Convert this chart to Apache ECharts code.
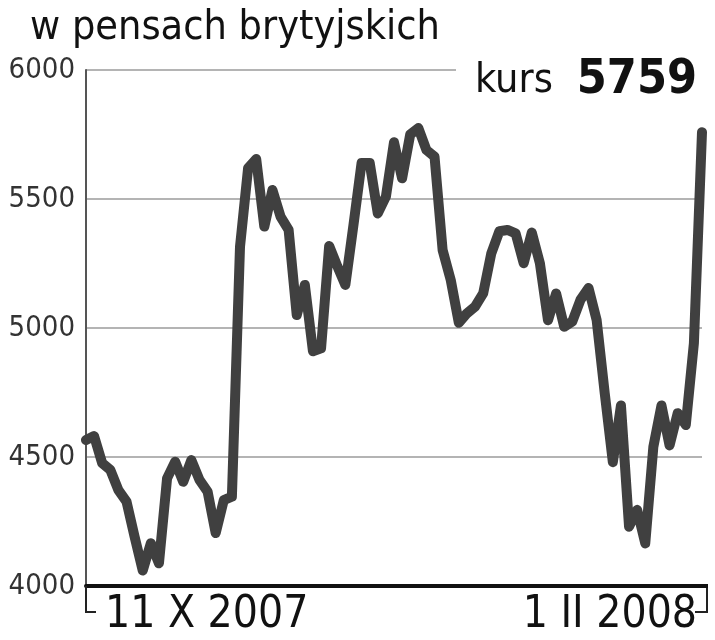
<!DOCTYPE html>
<html>
<head>
<meta charset="utf-8">
<script src="https://cdn.jsdelivr.net/npm/echarts@6/dist/echarts.min.js"></script>
<style>
  html, body { margin: 0; padding: 0; background: #fff; }
  #chart { width: 715px; height: 640px; }
</style>
</head>
<body>
<div id="chart"></div>
<script>
// kurs w pensach brytyjskich, notowania dzienne 11 X 2007 - 1 II 2008
var values = [
  4566, 4581, 4476, 4450, 4372, 4327, 4190, 4060, 4166, 4088,
  4417, 4482, 4404, 4488, 4411, 4366, 4205, 4333, 4346, 5315,
  5620, 5655, 5393, 5535, 5432, 5380, 5050, 5167, 4910, 4921,
  5318, 5240, 5167, 5400, 5640, 5640, 5444, 5509, 5720, 5580,
  5750, 5775, 5690, 5664, 5302, 5186, 5020, 5057, 5083, 5134,
  5289, 5375, 5380, 5367, 5251, 5370, 5251, 5030, 5134, 5005,
  5025, 5109, 5155, 5031, 4747, 4480, 4700, 4230, 4295, 4165,
  4540, 4700, 4545, 4670, 4624, 4941, 5759
];
var tickLabels = ['11 X 2007', '1 II 2008'];
var yTicks = { min: 4000, max: 6000, step: 500 };
var lastValue = 5759;

// kategorie: podpis tylko na pierwszym i ostatnim dniu
var categories = values.map(function (v, i) {
  if (i === 0) return tickLabels[0];
  if (i === values.length - 1) return tickLabels[1];
  return '';
});

var font = '"DejaVu Sans Condensed", "Liberation Sans Narrow", sans-serif';

var myChart = echarts.init(document.getElementById('chart'));

var option = {
  backgroundColor: '#fff',
  animation: false,
  grid: {
    left: 86,
    right: 13,
    top: 70,
    bottom: 54
  },
  xAxis: {
    type: 'category',
    boundaryGap: false,
    data: categories,
    axisLine: {
      lineStyle: { color: '#111', width: 4 }
    },
    axisTick: { show: false },
    splitLine: { show: false },
    axisLabel: {
      interval: 0,
      alignMinLabel: 'left',
      alignMaxLabel: 'right',
      margin: 8,
      formatter: function (v, i) {
        if (i === 0) return '{a|' + v + '}';
        if (i === values.length - 1) return '{b|' + v + '}';
        return '';
      },
      rich: {
        a: { fontFamily: font, fontSize: 44, color: '#111', padding: [0, 0, 0, 19] },
        b: { fontFamily: font, fontSize: 44, color: '#111', padding: [0, 5, 0, 0] }
      }
    }
  },
  yAxis: {
    type: 'value',
    min: yTicks.min,
    max: yTicks.max,
    interval: yTicks.step,
    axisLine: {
      show: true,
      lineStyle: { color: '#555', width: 2 }
    },
    axisTick: { show: false },
    axisLabel: {
      margin: 11,
      color: '#333',
      fontFamily: font,
      fontSize: 29,
      formatter: function (v) { return String(v); }
    },
    splitLine: {
      lineStyle: { color: '#b4b4b4', width: 2 }
    }
  },
  series: [
    {
      name: 'kurs',
      type: 'line',
      data: values,
      showSymbol: false,
      smooth: false,
      z: 3,
      lineStyle: {
        color: '#404040',
        width: 10,
        cap: 'round',
        join: 'round'
      }
    }
  ],
  graphic: [
    // zaslania gorna linie siatki pod napisem "kurs"
    {
      type: 'rect',
      left: 456, top: 64,
      shape: { width: 260, height: 12 },
      style: { fill: '#fff' },
      z: 10
    },
    {
      type: 'text',
      left: 30, top: 8,
      style: {
        text: 'w pensach brytyjskich',
        fontFamily: font,
        fontSize: 41,
        fill: '#111'
      },
      z: 11
    },
    {
      type: 'text',
      left: 475, top: 61,
      style: {
        text: 'kurs',
        fontFamily: font,
        fontSize: 41,
        fill: '#111'
      },
      z: 11
    },
    {
      type: 'text',
      right: 18, top: 57,
      style: {
        text: String(lastValue),
        fontFamily: font,
        fontSize: 48,
        fontWeight: 'bold',
        fill: '#111'
      },
      z: 11
    },
    // nawiasy pod osia X
    {
      type: 'polyline',
      shape: { points: [[86, 586], [86, 612], [96, 612]] },
      style: { stroke: '#222', lineWidth: 2, fill: null },
      z: 11
    },
    {
      type: 'polyline',
      shape: { points: [[700, 586], [707, 586], [707, 612], [695, 612]] },
      style: { stroke: '#222', lineWidth: 2, fill: null },
      z: 11
    },
    {
      type: 'line',
      shape: { x1: 700, y1: 586, x2: 708, y2: 586 },
      style: { stroke: '#111', lineWidth: 4 },
      z: 11
    }
  ]
};

myChart.setOption(option);
</script>
</body>
</html>
